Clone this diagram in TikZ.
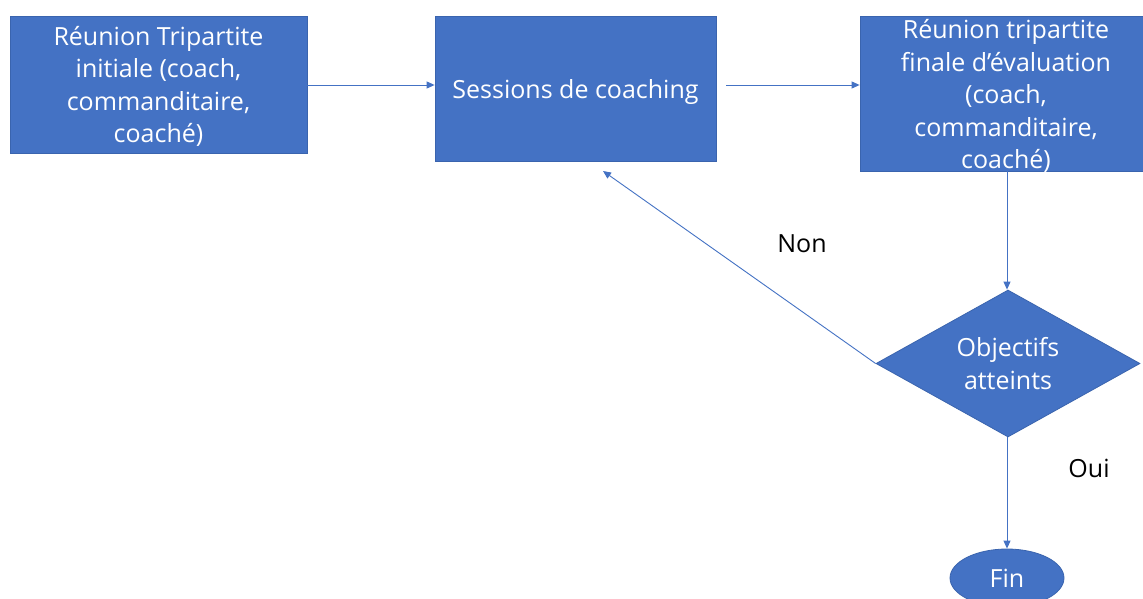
\documentclass[tikz,border=0pt]{standalone}
\usepackage{fontspec}
\setmainfont{Open Sans}
\usetikzlibrary{shapes.geometric,arrows.meta}
\definecolor{boxblue}{HTML}{4472C4}
\definecolor{edgeblue}{HTML}{3A64AE}
\tikzset{
  box/.style={draw=edgeblue, line width=0.8pt, fill=boxblue, text=white, inner sep=0pt, align=center,
    font=\fontsize{25}{32.5}\selectfont},
  inner/.style={text=white, inner sep=0pt, align=center, font=\fontsize{25}{32.5}\selectfont},
  conn/.style={draw=boxblue, line width=0.9pt, -{Triangle[length=8pt,width=7pt]}},
  lbl/.style={text=black, font=\fontsize{25}{32}\selectfont, inner sep=0pt}
}
\begin{document}
\begin{tikzpicture}[x=1pt,y=-1pt]
\useasboundingbox (0,0) rectangle (1143,599);
\clip (0,0) rectangle (1143,599);
\fill[white] (0,0) rectangle (1143,599);
\node[box, minimum width=297pt, minimum height=137pt] (r1) at (158.5,84.5) {};
\node[inner] (r1t) at (158.5,86.5)
  {Réunion Tripartite\\initiale (coach,\\commanditaire,\\coaché)};
\node[box, minimum width=281pt, minimum height=145pt] (s) at (575.5,88.5) {};
\node[inner] (st) at (575.5,92.5) {Sessions de coaching};
\node[box, minimum width=290pt, minimum height=155pt] (r2) at (1005,93.5) {};
\node[inner] (r2t) at (1006,96)
  {Réunion tripartite\\finale d’évaluation\\(coach,\\commanditaire,\\coaché)};
\node[box, diamond, minimum width=264pt, minimum height=147pt, aspect=1.8] (d) at (1008,363.5)
  {Objectifs\\atteints};
\node[box, ellipse, minimum width=114pt, minimum height=58pt] (f) at (1007,578)
  {Fin};
\coordinate (s2) at (726,85);
\coordinate (back) at (603,171);
\draw[conn] (r1.east |- 0,85) -- (s.west |- 0,85);
\draw[conn] (s2) -- (r2.west |- s2);
\draw[conn] (r2.south -| 1007,0) -- (d.north -| 1007,0);
\draw[conn] (d.west) -- (back);
\draw[conn] (d.south -| 1007,0) -- (f.north -| 1007,0);
\node[lbl] (non) at (802,244) {Non};
\node[lbl] (oui) at (1089,468) {Oui};
\end{tikzpicture}
\end{document}
